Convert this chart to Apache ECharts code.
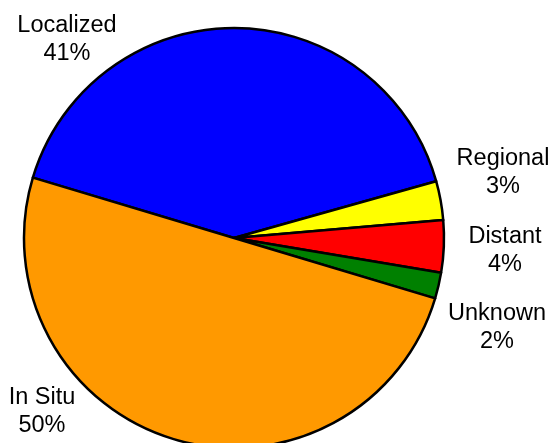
<!DOCTYPE html>
<html style="height: 100%">
<head>
  <meta charset="utf-8">
  <title>Stage pie</title>
  <script src="https://cdn.jsdelivr.net/npm/echarts@6/dist/echarts.min.js"></script>
</head>
<body style="margin: 0; height: 100%; background: #fff">
  <div id="main" style="width: 553px; height: 443px"></div>
  <script>
    // stages in drawing order (clockwise from the left edge)
    const stages = ['Localized', 'Regional', 'Distant', 'Unknown', 'In Situ'];
    const shares = [41, 3, 4, 2, 50];
    const colors = ['#0000ff', '#ffff00', '#ff0000', '#008000', '#ff9900'];
    // where each label sits (pixels)
    const labelSpots = [[67, 40], [503, 173], [505, 251], [497, 328], [42, 412]];

    const chart = echarts.init(document.getElementById('main'));

    chart.setOption({
      animation: false,
      series: [{
        type: 'pie',
        center: [234, 238],
        radius: 210,
        startAngle: 163.3,
        clockwise: true,
        avoidLabelOverlap: false,
        itemStyle: { borderColor: '#000', borderWidth: 2.5 },
        label: {
          show: true,
          position: 'outside',
          formatter: p => p.name + '\n' + p.value + '%',
          fontFamily: 'Liberation Sans, Arial, sans-serif',
          fontSize: 23.5,
          lineHeight: 28,
          color: '#000',
          align: 'center'
        },
        labelLine: { show: false },
        labelLayout: params => ({
          x: labelSpots[params.dataIndex][0],
          y: labelSpots[params.dataIndex][1],
          align: 'center',
          verticalAlign: 'middle'
        }),
        emphasis: { disabled: true },
        data: stages.map((name, i) => ({
          name: name,
          value: shares[i],
          itemStyle: { color: colors[i] }
        }))
      }]
    });
  </script>
</body>
</html>
